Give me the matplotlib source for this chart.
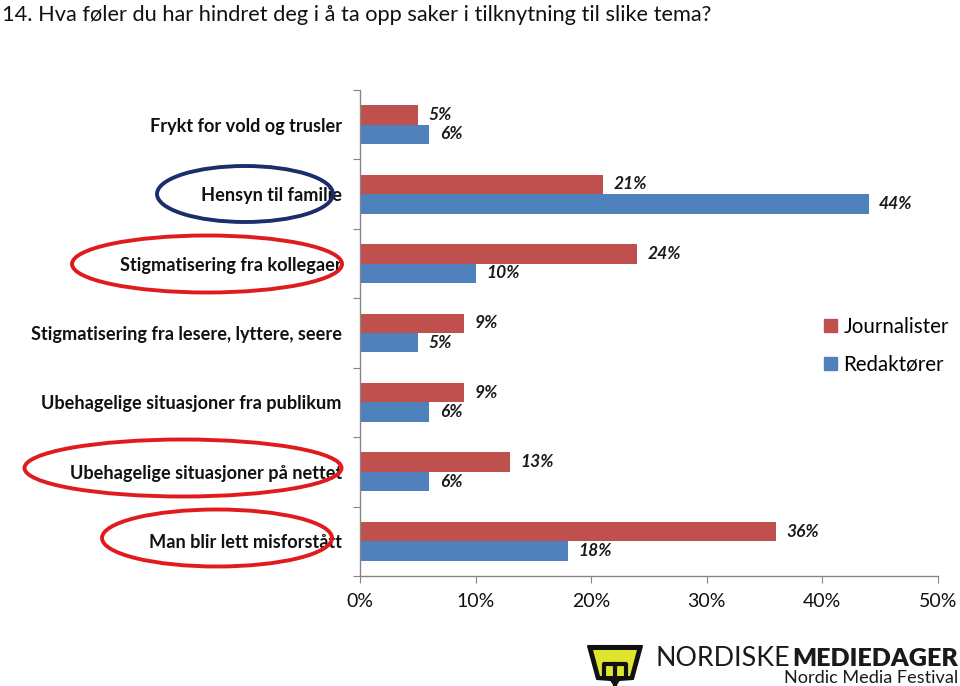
import matplotlib
matplotlib.use("Agg")
import matplotlib.pyplot as plt
from matplotlib.patches import Ellipse, Polygon, Patch
import numpy as np

# ---------------- data ----------------
title = "14. Hva føler du har hindret deg i å ta opp saker i tilknytning til slike tema?"
categories = [
    "Frykt for vold og trusler",
    "Hensyn til familie",
    "Stigmatisering fra kollegaer",
    "Stigmatisering fra lesere, lyttere, seere",
    "Ubehagelige situasjoner fra publikum",
    "Ubehagelige situasjoner på nettet",
    "Man blir lett misforstått",
]
journalister = [5, 21, 24, 9, 9, 13, 36]
redaktorer = [6, 44, 10, 5, 6, 6, 18]
series_names = ["Journalister", "Redaktører"]
xticks = [0, 10, 20, 30, 40, 50]
xtick_labels = ["0%", "10%", "20%", "30%", "40%", "50%"]

RED = "#c0504d"
BLUE = "#4f81bd"
GRAY = "#868686"
FONT = ["Lato", "DejaVu Sans"]
plt.rcParams["font.family"] = FONT

W, H = 960, 686
fig = plt.figure(figsize=(W / 100, H / 100), dpi=100)
renderer = fig.canvas.get_renderer()


def text_width(s, size, **kw):
    t = fig.text(0, 0, s, fontsize=size, **kw)
    w = t.get_window_extent(renderer).width
    t.remove()
    return w


def fit_size(s, target, **kw):
    return 10 * target / text_width(s, 10, **kw)


# ---------------- main axes ----------------
ax = fig.add_axes([360 / W, 1 - 576 / H, (938 - 360) / W, (576 - 90) / H])
y = np.arange(len(categories))
h = 0.28
ax.barh(y - h / 2, journalister, height=h, color=RED, label=series_names[0])
ax.barh(y + h / 2, redaktorer, height=h, color=BLUE, label=series_names[1])
ax.set_xlim(0, 50)
ax.set_ylim(len(categories) - 0.5, -0.5)

for sp in ["top", "right"]:
    ax.spines[sp].set_visible(False)
for sp in ["left", "bottom"]:
    ax.spines[sp].set_color(GRAY)
    ax.spines[sp].set_linewidth(1.0)

# y ticks: marks at category boundaries, labels at centers
ax.set_yticks(np.arange(len(categories) + 1) - 0.5)
ax.set_yticklabels([])
ax.set_yticks(y, minor=True)
cat_size = fit_size(max(categories, key=len), 312, fontweight="bold")
ax.set_yticklabels(categories, minor=True, fontsize=cat_size, fontweight="bold",
                   color="#111111")
ax.tick_params(axis="y", which="major", length=5, color=GRAY, direction="out")
ax.tick_params(axis="y", which="minor", length=0, pad=13)

ax.set_xticks(xticks)
ax.set_xticklabels(xtick_labels, fontsize=14, color="#111111")
ax.tick_params(axis="x", length=5, color=GRAY, direction="out", pad=7)

# data labels
for vals, off in [(journalister, -h / 2), (redaktorer, h / 2)]:
    for i, v in enumerate(vals):
        ax.annotate(f"{v}%", xy=(v, i + off), xytext=(7.5, 0),
                    textcoords="offset points", ha="left", va="center",
                    fontsize=12.5, fontweight="bold", fontstyle="italic",
                    color="#1a1a1a")

# legend
handles = [Patch(color=RED, label=series_names[0]),
           Patch(color=BLUE, label=series_names[1])]
fig.legend(handles=handles, loc="upper left",
           bbox_to_anchor=(824 / W, 1 - 317 / H), frameon=False,
           fontsize=14.8, handlelength=0.62, handleheight=0.62,
           handletextpad=0.33, labelspacing=0.85, borderpad=0,
           borderaxespad=0)

# ---------------- title ----------------
tsize = fit_size(title, 710)
fig.text(2 / W, 1 - 21 / H, title, fontsize=tsize, ha="left", va="baseline",
         color="#111111")

# ---------------- overlay (ellipses + logo) ----------------
ov = fig.add_axes([0, 0, 1, 1])
ov.set_xlim(0, W)
ov.set_ylim(H, 0)
ov.axis("off")
ov.patch.set_alpha(0)

ellipses = [
    ((245, 194), 176, 56, "#1c2d6b"),
    ((207, 264), 270, 57, "#e01b1e"),
    ((183, 468), 317, 57, "#e01b1e"),
    ((217, 538), 230, 57, "#e01b1e"),
]
for c, w, hh, col in ellipses:
    ov.add_patch(Ellipse(c, w, hh, fill=False, edgecolor=col, linewidth=2.8))

# logo shield
outer = [(588, 646), (642, 646), (633, 679), (619, 680), (615, 686),
         (611, 680), (597, 679)]
ov.add_patch(Polygon(outer, closed=True, facecolor="#111111",
                     edgecolor="#111111", linewidth=1.5, joinstyle="round"))
inner = [(593, 650), (637, 650), (630, 676), (600, 676)]
ov.add_patch(Polygon(inner, closed=True, facecolor="#dfe52e",
                     edgecolor="none"))
ov.plot([604, 604, 626, 626], [677, 664, 664, 677], color="#111111",
        linewidth=3.0, solid_joinstyle="round", solid_capstyle="butt")
ov.plot([615, 615], [664, 684], color="#111111", linewidth=3.0)

s1 = fit_size("NORDISKE", 133)
s2 = fit_size("MEDIEDAGER", 166, fontweight="heavy")
ov.text(655, 666, "NORDISKE", fontsize=s1, ha="left",
        va="baseline", color="#1a1a1a")
ov.text(958, 666, "MEDIEDAGER", fontsize=s2, fontweight="heavy", ha="right",
        va="baseline", color="#1a1a1a")
s3 = fit_size("Nordic Media Festival", 174)
ov.text(958, 683, "Nordic Media Festival", fontsize=s3, ha="right",
        va="baseline", color="#1a1a1a")

fig.savefig("out.png", dpi=100)
